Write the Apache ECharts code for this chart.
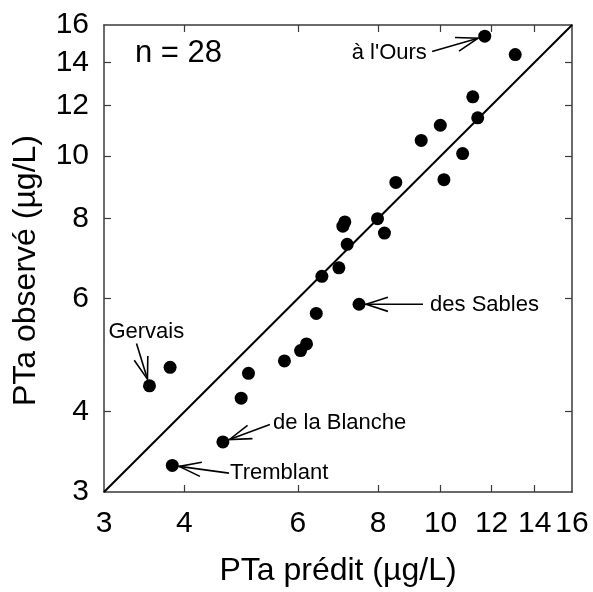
<!DOCTYPE html>
<html>
<head>
<meta charset="utf-8">
<script src="https://cdn.jsdelivr.net/npm/echarts@6/dist/echarts.min.js"></script>
<style>
  html, body { margin: 0; padding: 0; background: #fff; }
  #chart { width: 593px; height: 592px; }
</style>
</head>
<body>
<div id="chart"></div>
<script>
// Predicted vs observed total phosphorus (µg/L) for 28 lakes, log–log scale
const predicted = [11.71, 13.06, 11.22, 11.42, 9.99, 9.33, 10.82, 10.12, 8.52, 7.98,
                   8.18, 7.10, 7.05, 7.16, 6.95, 6.54, 7.47, 6.41, 6.19, 6.06,
                   3.53, 3.80, 5.03, 4.90, 5.72, 4.59, 3.83];
const observed  = [15.37, 14.39, 12.37, 11.47, 11.17, 10.58, 10.09, 9.19, 9.10, 7.99,
                   7.59, 7.90, 7.78, 7.29, 6.70, 6.50, 5.88, 5.69, 5.10, 4.98,
                   4.39, 4.69, 4.59, 4.20, 4.80, 3.59, 3.30];

// 1:1 line end values
const identityLine = [3, 16];

// Axis labels and inner tick marks
const tickLabels = [3, 4, 6, 8, 10, 12, 14, 16];
const tickMarks = [4, 6, 8, 10, 12, 14];

// Named lakes: point index, tail of the arrow and text anchor (data units)
const callouts = [
  { name: "à l'Ours",      point: 0,  tail: [9.70, 14.55], text: [9.52, 14.45], align: 'right'  },
  { name: 'des Sables',    point: 16, tail: [9.39, 5.88],  text: [9.63, 5.86],  align: 'left'   },
  { name: 'Gervais',       point: 20, tail: [3.37, 5.11],  text: [3.49, 5.32],  align: 'center' },
  { name: 'de la Blanche', point: 25, tail: [5.43, 3.82],  text: [5.49, 3.84],  align: 'left'   },
  { name: 'Tremblant',     point: 26, tail: [4.69, 3.21],  text: [4.71, 3.21],  align: 'left'   }
];

const FONT = '"Liberation Sans", Arial, Helvetica, sans-serif';
const FRAME = '#3a3a3a';

const chart = echarts.init(document.getElementById('chart'), null, { renderer: 'canvas' });

function axisBase(extra) {
  return Object.assign({
    type: 'log',
    logBase: 10,
    min: 3,
    max: 16,
    axisLine: { show: true, onZero: false, lineStyle: { color: FRAME, width: 1.5 } },
    axisTick: { show: true, inside: true, length: 7, customValues: tickMarks,
                lineStyle: { color: FRAME, width: 1.2 } },
    minorTick: { show: false },
    splitLine: { show: false }
  }, extra);
}

const labelStyle = {
  customValues: tickLabels,
  color: '#000',
  fontFamily: FONT,
  fontSize: 30,
  showMinLabel: true,
  showMaxLabel: true,
  hideOverlap: false
};

const points = predicted.map((p, i) => [p, observed[i]]);
const calloutData = callouts.map(c => [
  predicted[c.point], observed[c.point], c.tail[0], c.tail[1], c.text[0], c.text[1]
]);

function renderCallout(params, api) {
  const c = callouts[params.dataIndex];
  const P = api.coord([api.value(0), api.value(1)]);
  const T = api.coord([api.value(2), api.value(3)]);
  const L = api.coord([api.value(4), api.value(5)]);
  const dx = T[0] - P[0], dy = T[1] - P[1];
  const d = Math.hypot(dx, dy);
  const ux = dx / d, uy = dy / d;
  const r = 7;
  const tip = [P[0] + ux * r, P[1] + uy * r];
  const barbLen = 23, ang = 18 * Math.PI / 180;
  const rot = (a) => [ux * Math.cos(a) - uy * Math.sin(a), ux * Math.sin(a) + uy * Math.cos(a)];
  const b1 = rot(ang), b2 = rot(-ang);
  const lineStyle = { stroke: '#000', lineWidth: 1.6, fill: null };
  return {
    type: 'group',
    children: [
      { type: 'line', shape: { x1: T[0], y1: T[1], x2: tip[0], y2: tip[1] }, style: lineStyle },
      { type: 'polyline',
        shape: { points: [[tip[0] + b1[0] * barbLen, tip[1] + b1[1] * barbLen], tip,
                          [tip[0] + b2[0] * barbLen, tip[1] + b2[1] * barbLen]] },
        style: lineStyle },
      { type: 'text',
        x: L[0], y: L[1],
        style: { text: c.name, fill: '#000', font: '22px ' + FONT,
                 align: c.align, verticalAlign: 'middle' } }
    ]
  };
}

chart.setOption({
  animation: false,
  backgroundColor: '#fff',
  grid: { left: 104, right: 21, top: 25, bottom: 100, containLabel: false },
  xAxis: [
    axisBase({
      position: 'bottom',
      axisLabel: Object.assign({ margin: 17 }, labelStyle),
      name: 'PTa prédit (µg/L)',
      nameLocation: 'middle',
      nameGap: 63,
      nameTextStyle: { color: '#000', fontFamily: FONT, fontSize: 32 }
    }),
    axisBase({ position: 'top', axisLabel: { show: false } })
  ],
  yAxis: [
    axisBase({
      position: 'left',
      axisLabel: Object.assign({ margin: 15 }, labelStyle),
      name: 'PTa observé (µg/L)',
      nameLocation: 'middle',
      nameGap: 62,
      nameTextStyle: { color: '#000', fontFamily: FONT, fontSize: 32, padding: [0, 24, 0, 0] }
    }),
    axisBase({ position: 'right', axisLabel: { show: false } })
  ],
  graphic: [{
    type: 'text',
    left: 135,
    top: 38,
    style: { text: 'n = 28', fill: '#000', font: '31px ' + FONT }
  }],
  series: [
    {
      type: 'line',
      data: [[identityLine[0], identityLine[0]], [identityLine[1], identityLine[1]]],
      symbol: 'none',
      lineStyle: { color: '#000', width: 2 },
      silent: true,
      z: 2
    },
    {
      type: 'scatter',
      data: points,
      symbol: 'circle',
      symbolSize: 13,
      itemStyle: { color: '#000', opacity: 1 },
      z: 3
    },
    {
      type: 'custom',
      data: calloutData,
      encode: { x: [0, 2, 4], y: [1, 3, 5] },
      renderItem: renderCallout,
      clip: false,
      silent: true,
      z: 4
    }
  ]
});
</script>
</body>
</html>
